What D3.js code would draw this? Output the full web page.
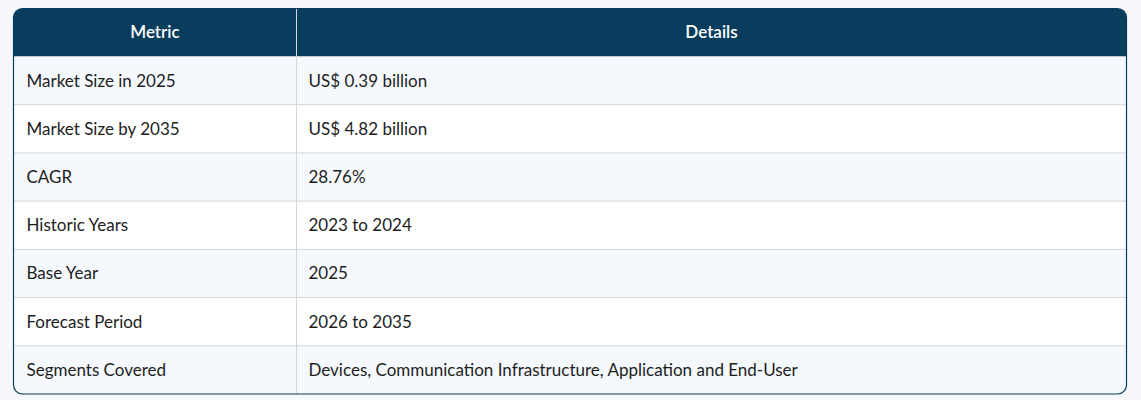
<!DOCTYPE html>
<html>
<head>
<meta charset="utf-8">
<script src="https://cdn.jsdelivr.net/npm/d3@7"></script>
<style>
  body { margin: 0; background: #f6f8fb; }
  text { font-family: Lato, "Open Sans", sans-serif; }
</style>
</head>
<body>
<svg id="chart" width="1141" height="400"></svg>
<script>
var headers = ["Metric", "Details"];
var metrics = ["Market Size in 2025", "Market Size by 2035", "CAGR", "Historic Years",
               "Base Year", "Forecast Period", "Segments Covered"];
var details = ["US$ 0.39 billion", "US$ 4.82 billion", "28.76%", "2023 to 2024",
               "2025", "2026 to 2035", "Devices, Communication Infrastructure, Application and End-User"];

var tLeft = 13.5, tTop = 8.5, tWidth = 1113, tHeight = 385.5, split = 296.5, headH = 48;
var svg = d3.select("#chart");

var y = d3.scaleBand().domain(d3.range(metrics.length))
  .range([tTop + headH, tTop + tHeight]);

svg.append("clipPath").attr("id", "clip").append("rect")
  .attr("x", tLeft).attr("y", tTop).attr("width", tWidth).attr("height", tHeight)
  .attr("rx", 9);

var g = svg.append("g").attr("clip-path", "url(#clip)");

g.append("rect").attr("x", tLeft).attr("y", tTop).attr("width", tWidth)
  .attr("height", headH).attr("fill", "#093d5d");

var rows = g.selectAll(".row").data(metrics).enter().append("g")
  .attr("transform", function(d, i) { return "translate(0," + y(i) + ")"; });

rows.append("rect").attr("x", tLeft).attr("width", tWidth).attr("height", y.bandwidth())
  .attr("fill", function(d, i) { return i % 2 == 0 ? "#f5f9fd" : "#ffffff"; });

rows.filter(function(d, i) { return i > 0; }).append("line")
  .attr("x1", tLeft).attr("x2", tLeft + tWidth).attr("y1", 0).attr("y2", 0)
  .attr("stroke", "#d3d6da");

rows.append("text").attr("x", tLeft + 13).attr("y", y.bandwidth() / 2).attr("dy", "0.35em")
  .attr("font-size", 17).attr("fill", "#1d1d1d").text(function(d) { return d; });

rows.append("text").attr("x", split + 12).attr("y", y.bandwidth() / 2).attr("dy", "0.35em")
  .attr("font-size", 17).attr("fill", "#1d1d1d").text(function(d, i) { return details[i]; });

g.append("line").attr("x1", split).attr("x2", split).attr("y1", tTop).attr("y2", tTop + tHeight)
  .attr("stroke", "#d3d6da");

g.selectAll(".head").data(headers).enter().append("text")
  .attr("x", function(d, i) { return i == 0 ? (tLeft + split) / 2 : (split + tLeft + tWidth) / 2; })
  .attr("y", tTop + headH / 2).attr("dy", "0.35em").attr("text-anchor", "middle")
  .attr("font-size", 17).attr("font-weight", 600).attr("fill", "#ffffff")
  .text(function(d) { return d; });

svg.append("rect").attr("x", tLeft).attr("y", tTop).attr("width", tWidth).attr("height", tHeight)
  .attr("rx", 9).attr("fill", "none").attr("stroke", "#093d5d").attr("stroke-width", 1.2);
</script>
</body>
</html>
